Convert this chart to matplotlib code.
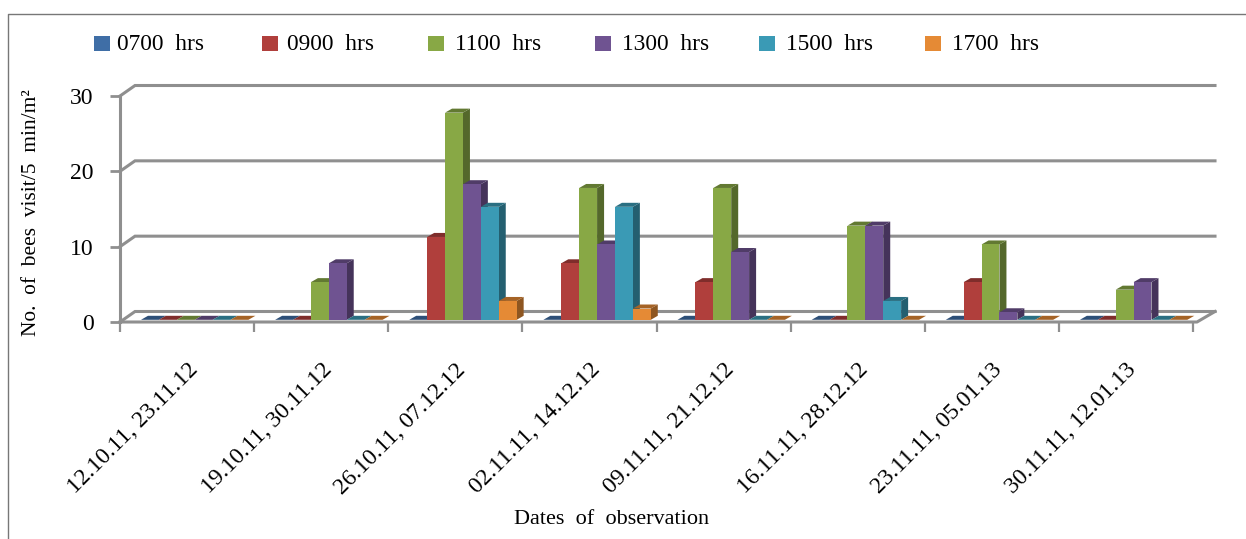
#!/usr/bin/env python3
"""Bee visits per time of day, drawn as a pseudo 3D column chart."""

import matplotlib
matplotlib.use('Agg')
import matplotlib.pyplot as plt
from matplotlib.patches import Polygon, Rectangle
from matplotlib.colors import to_rgb

plt.rcParams['font.family'] = ['Liberation Serif', 'DejaVu Serif']

dates = ['12.10.11, 23.11.12', '19.10.11, 30.11.12', '26.10.11, 07.12.12',
         '02.11.11, 14.12.12', '09.11.11, 21.12.12', '16.11.11, 28.12.12',
         '23.11.11, 05.01.13', '30.11.11, 12.01.13']
hrs_0700 = [0, 0, 0, 0, 0, 0, 0, 0]
hrs_0900 = [0, 0, 11, 7.5, 5, 0, 5, 0]
hrs_1100 = [0, 5, 27.5, 17.5, 17.5, 12.5, 10, 4]
hrs_1300 = [0, 7.5, 18, 10, 9, 12.5, 1, 5]
hrs_1500 = [0, 0, 15, 15, 0, 2.5, 0, 0]
hrs_1700 = [0, 0, 2.5, 1.5, 0, 0, 0, 0]
series = [hrs_0700, hrs_0900, hrs_1100, hrs_1300, hrs_1500, hrs_1700]
labels = ['0700 hrs', '0900 hrs', '1100 hrs', '1300 hrs', '1500 hrs', '1700 hrs']
colors = ['#3f6ea6', '#b03f3c', '#88a845', '#6f5391', '#3a9ab5', '#e58a35']
yticks = [0, 10, 20, 30]

W, H = 1246, 539
fig = plt.figure(figsize=(W / 100, H / 100), dpi=100, facecolor='white')


def px_axes(x0, x1, y_top, y_bot):
    return fig.add_axes([x0 / W, 1 - y_bot / H, (x1 - x0) / W, (y_bot - y_top) / H])


# axes covers the front plane of the 3D box
left, right, top, bottom = 120, 1193, 96, 322
ax = px_axes(left, right, top, bottom)
ax.set_xlim(0, 8)
ax.set_ylim(0, 30)
ax.patch.set_alpha(0)
for s in ax.spines.values():
    s.set_visible(False)

ux = (right - left) / 8      # px per category
uy = (bottom - top) / 30     # px per value
GREY = '#8f8f8f'

# back wall + floor
wall_dx, wall_dy = 15 / ux, 10.5 / uy
wall_end = (1215 - left) / ux
for v in yticks:
    ax.plot([0, wall_dx, wall_end], [v, v + wall_dy, v + wall_dy], color=GREY, lw=2.2,
            clip_on=False, solid_joinstyle='miter', zorder=1)
ax.plot([0, 0], [0, 30], color=GREY, lw=2.2, clip_on=False, zorder=1)
ax.plot([0, (1197 - left) / ux, wall_end], [0, 0, wall_dy], color=GREY, lw=2.2,
        clip_on=False, zorder=1)

# columns
bar_w = 17.9 / ux
offset = 21 / ux
base = 2.2 / uy
depth_x, depth_y = 7 / ux, 4 / uy


def shade(c, f):
    return tuple(ch * f for ch in to_rgb(c))


for i, (vals, col) in enumerate(zip(series, colors)):
    for j, v in enumerate(vals):
        x0 = j + offset + i * bar_w
        x1 = x0 + bar_w
        y1 = base + v
        if v > 0:
            ax.add_patch(Polygon([(x1, base), (x1 + depth_x, base + depth_y),
                                  (x1 + depth_x, y1 + depth_y), (x1, y1)],
                                 fc=shade(col, 0.62), ec='none', clip_on=False, zorder=3))
        ax.add_patch(Polygon([(x0, y1), (x0 + depth_x, y1 + depth_y),
                              (x1 + depth_x, y1 + depth_y), (x1, y1)],
                             fc=shade(col, 0.72), ec='none', clip_on=False, zorder=3))
        ax.bar(x0, v, width=bar_w, bottom=base, align='edge', color=col, clip_on=False, zorder=3)

# ticks
ax.set_xticks(range(9))
ax.set_xticklabels([])
ax.set_xticks([k + 0.5 for k in range(8)], minor=True)
ax.set_xticklabels(dates, minor=True, rotation=45, ha='right', va='top',
                   rotation_mode='anchor', fontsize=17)
ax.tick_params(axis='x', which='major', length=7, width=1.6, color=GREY)
ax.tick_params(axis='x', which='minor', length=0, pad=27)
ax.set_yticks(yticks)
ax.set_yticklabels([str(v) for v in yticks], fontsize=17)
ax.tick_params(axis='y', length=7, width=2, color=GREY, pad=12)

fig.text(32 / W, 1 - 213 / H, 'No.  of  bees  visit/5  min/m\u00b2', rotation=90,
         ha='center', va='center', fontsize=15.4)
fig.text(612 / W, 1 - 520 / H, 'Dates  of  observation', ha='center', va='center',
         fontsize=16)

# legend, spaced as in the source rather than evenly
swatch_x = [94, 262, 428, 595, 759, 925]
text_x = [117, 287, 455, 622, 786, 952]
for sx, tx, lab, col in zip(swatch_x, text_x, labels, colors):
    fig.add_artist(Rectangle((sx / W, 1 - 51 / H), 16 / W, 15 / H, fc=col, ec='none',
                             transform=fig.transFigure))
    fig.text(tx / W, 1 - 44 / H, lab.replace(' ', '  '), ha='left', va='center', fontsize=16.8)

# scan frame, top and left only
fig.add_artist(plt.Line2D([8 / W, 8 / W, 1], [0, 1 - 14 / H, 1 - 14 / H], color='#777777',
                          lw=1, transform=fig.transFigure))

fig.savefig('out.png', dpi=100)
